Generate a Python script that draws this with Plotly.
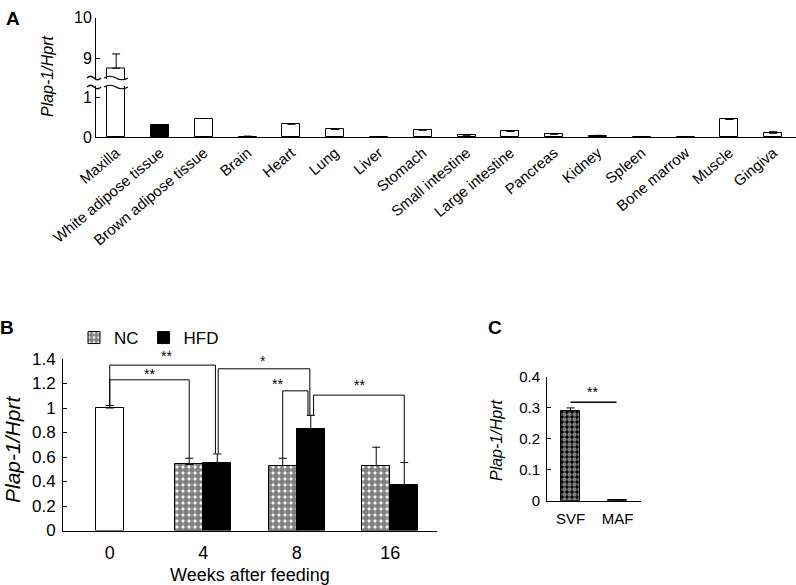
import plotly.graph_objects as go

W, H = 796, 585
def px(x): return x / W
def py(y): return 1 - y / H

FONT = "Liberation Sans, Arial, sans-serif"

# ---------------- Data ----------------
# Panel A
tissues = ["Maxilla", "White adipose tissue", "Brown adipose tissue", "Brain", "Heart",
           "Lung", "Liver", "Stomach", "Small intestine", "Large intestine", "Pancreas",
           "Kidney", "Spleen", "Bone marrow", "Muscle", "Gingiva"]
tissue_vals = [8.75, 0.32, 0.47, 0.02, 0.33, 0.20, 0.01, 0.18, 0.05, 0.15, 0.08,
               0.03, 0.01, 0.01, 0.45, 0.10]
tissue_err = [0.35, 0.0, 0.0, 0.01, 0.0, 0.0, 0.0, 0.0, 0.02, 0.0, 0.0,
              0.02, 0.0, 0.0, 0.0, 0.04]
tissue_colors = ["white", "black"] + ["white"] * 14

# Panel B
weeks = ["0", "4", "8", "16"]
base_val = [1.00]
base_err = [0.02]
nc_vals = [0.54, 0.53, 0.53]
nc_err = [0.05, 0.06, 0.15]
hfd_vals = [0.555, 0.83, 0.375]
hfd_err = [0.07, 0.11, 0.18]

# Panel C
fractions = ["SVF", "MAF"]
frac_vals = [0.29, 0.003]
frac_err = [0.01, 0.0]

fig = go.Figure()
line_k = dict(color="black", width=1)
err_k = lambda arr: dict(type="data", array=arr, arrayminus=[0] * len(arr), symmetric=False,
                         color="black", thickness=1, width=4)

# ---- Panel A: bottom segment + top segment (broken axis)
fig.add_trace(go.Bar(x=tissues, y=tissue_vals, error_y=err_k(tissue_err),
                     marker=dict(color=tissue_colors, line=line_k), width=0.41,
                     xaxis="x", yaxis="y", showlegend=False))
fig.add_trace(go.Bar(x=tissues[:1], y=tissue_vals[:1], error_y=err_k(tissue_err[:1]),
                     marker=dict(color=tissue_colors[:1], line=line_k), width=0.41,
                     xaxis="x", yaxis="y2", showlegend=False))

# ---- Panel B
fig.add_trace(go.Bar(x=[0], y=base_val, error_y=err_k(base_err), width=0.3,
                     marker=dict(color="white", line=line_k),
                     xaxis="x2", yaxis="y3", showlegend=False))
fig.add_trace(go.Bar(x=[1, 2, 3], y=nc_vals, error_y=err_k(nc_err), width=0.3, offset=-0.3,
                     name="NC",
                     marker=dict(color="white", line=line_k,
                                 pattern=dict(shape=".", fgcolor="black", bgcolor="white",
                                              size=6, solidity=0.75)),
                     xaxis="x2", yaxis="y3"))
fig.add_trace(go.Bar(x=[1, 2, 3], y=hfd_vals, error_y=err_k(hfd_err), width=0.3, offset=0.0,
                     name="HFD",
                     marker=dict(color="black", line=line_k),
                     xaxis="x2", yaxis="y3"))

# ---- Panel C
fig.add_trace(go.Bar(x=[0, 1], y=frac_vals, error_y=err_k(frac_err), width=0.42,
                     marker=dict(color="black", line=line_k,
                                 pattern=dict(shape=".", fgcolor="white", bgcolor="black",
                                              size=5, solidity=0.6)),
                     xaxis="x3", yaxis="y4", showlegend=False))

tickfont = lambda s: dict(family=FONT, size=s, color="black")
common = dict(showgrid=False, zeroline=False, automargin=False, showline=True,
              linecolor="black", linewidth=1)

yA_bot_top = 86
yA_top_bot = 79
fig.update_layout(
    width=W, height=H, margin=dict(l=0, r=0, t=0, b=0),
    plot_bgcolor="white", paper_bgcolor="white",
    font=dict(family=FONT, color="black"),
    bargap=0,
    xaxis=dict(domain=[px(96), 1.0], anchor="y", range=[-0.46, 15.52], type="category",
               ticks="", tickangle=-40, tickfont=tickfont(15), **common),
    yaxis=dict(domain=[py(137.3), py(yA_bot_top)], anchor="x", range=[0, (137.3 - yA_bot_top) / 40],
               tickvals=[0, 1], ticks="inside", ticklen=4, tickcolor="black",
               tickfont=tickfont(16), **common),
    yaxis2=dict(domain=[py(yA_top_bot), py(17.5)], anchor="x",
                range=[9 - (yA_top_bot - 58) / 40.5, 10], tickvals=[9, 10],
                ticks="inside", ticklen=4, tickcolor="black", tickfont=tickfont(16), **common),
    xaxis2=dict(domain=[px(63), px(437)], anchor="y3", range=[-0.5, 3.5],
                tickvals=[0, 1, 2, 3], ticktext=weeks, ticks="", tickfont=tickfont(18),
                ticklabelstandoff=6, **common),
    yaxis3=dict(domain=[py(530.5), py(359)], anchor="x2", range=[0, 1.4],
                tickvals=[0, 0.2, 0.4, 0.6, 0.8, 1, 1.2, 1.4],
                ticktext=["0", "0.2", "0.4", "0.6", "0.8", "1", "1.2", "1.4"],
                ticks="inside", ticklen=4, tickcolor="black", tickfont=tickfont(17),
                ticklabelstandoff=3, **common),
    xaxis3=dict(domain=[px(547), px(641)], anchor="y4", range=[-0.5, 1.5],
                tickvals=[0, 1], ticktext=fractions, ticks="", tickfont=tickfont(15),
                ticklabelstandoff=4, **common),
    yaxis4=dict(domain=[py(500.7), py(377)], anchor="x3", range=[0, 0.4],
                tickvals=[0, 0.1, 0.2, 0.3, 0.4], ticktext=["0", "0.1", "0.2", "0.3", "0.4"],
                ticks="inside", ticklen=4, tickcolor="black", tickfont=tickfont(15),
                ticklabelstandoff=3, **common),
    legend=dict(orientation="h", x=px(74), y=py(320), xanchor="left", yanchor="top",
                font=dict(family=FONT, size=17), bgcolor="rgba(0,0,0,0)",
                itemwidth=30, traceorder="normal"),
)

# ---- significance brackets, panel B (data coords)
brackets_B = [
    # x_left, y_left_bottom, x_right, y_right_bottom, y_top
    (0.0, 1.02, 0.85, 0.59, 1.23),
    (0.0, 1.02, 1.13, 0.63, 1.35),
    (1.16, 0.63, 2.14, 0.94, 1.32),
    (1.85, 0.59, 2.12, 0.94, 1.14),
    (2.18, 0.94, 3.15, 0.555, 1.105),
]
for xl, yl, xr, yr, yt in brackets_B:
    fig.add_shape(type="path", xref="x2", yref="y3",
                  path=f"M {xl},{yl} L {xl},{yt} L {xr},{yt} L {xr},{yr}",
                  line=dict(color="black", width=1))
stars_B = [(0.42, 1.28, "**"), (1.64, 1.38, "*"),
           (1.79, 1.20, "**"), (2.67, 1.19, "**")]
for x, y, t in stars_B:
    fig.add_annotation(x=x, y=y, xref="x2", yref="y3", text=t, showarrow=False,
                       xanchor="center", yanchor="middle",
                       font=dict(family=FONT, size=14))

# panel C bracket
fig.add_shape(type="line", xref="x3", yref="y4", x0=0, x1=0.98, y0=0.318, y1=0.318,
              line=dict(color="black", width=1.5))
fig.add_annotation(x=0.47, y=0.35, xref="x3", yref="y4", text="**", showarrow=False,
                   xanchor="center", yanchor="middle", font=dict(family=FONT, size=14))

# ---- axis-break squiggles (panel A)
def wave(x0, x1, y):
    w = x1 - x0
    pts = [(x0, y), (x0 + w * 0.25, y - 3.5), (x0 + w * 0.5, y), (x0 + w, y)]
    return (f"M {px(pts[0][0])},{py(pts[0][1])} Q {px(pts[1][0])},{py(pts[1][1])} "
            f"{px(pts[2][0])},{py(pts[2][1])} T {px(pts[3][0])},{py(pts[3][1])}")
for y in (yA_top_bot - 1, yA_bot_top + 1):
    fig.add_shape(type="path", xref="paper", yref="paper", path=wave(87, 101, y),
                  line=dict(color="black", width=1.2))
    fig.add_shape(type="path", xref="paper", yref="paper", path=wave(104, 128, y),
                  line=dict(color="black", width=1.2))

# ---- axis titles and panel letters
def ptext(x, y, text, size, angle=0):
    fig.add_annotation(x=px(x), y=py(y), xref="paper", yref="paper", text=text,
                       textangle=angle, showarrow=False, xanchor="center", yanchor="middle",
                       font=dict(family=FONT, size=size, color="black"))

# the top "**" of panel B sits above the axis range, so it is placed in paper space
ptext(166, 356, "**", 14)
ptext(48, 77, "<i>Plap-1/Hprt</i>", 16, -90)
ptext(12, 450, "<i>Plap-1/Hprt</i>", 21, -90)
ptext(496, 441, "<i>Plap-1/Hprt</i>", 16, -90)
ptext(250, 575, "Weeks after feeding", 18)
for letter, x, y in (("A", 13, 19), ("B", 7, 327), ("C", 495, 327)):
    ptext(x, y, f"<b>{letter}</b>", 19)

fig.write_html("out.html", config={"displayModeBar": False},
               post_script="document.body.style.margin='0';document.body.style.overflow='hidden';")
